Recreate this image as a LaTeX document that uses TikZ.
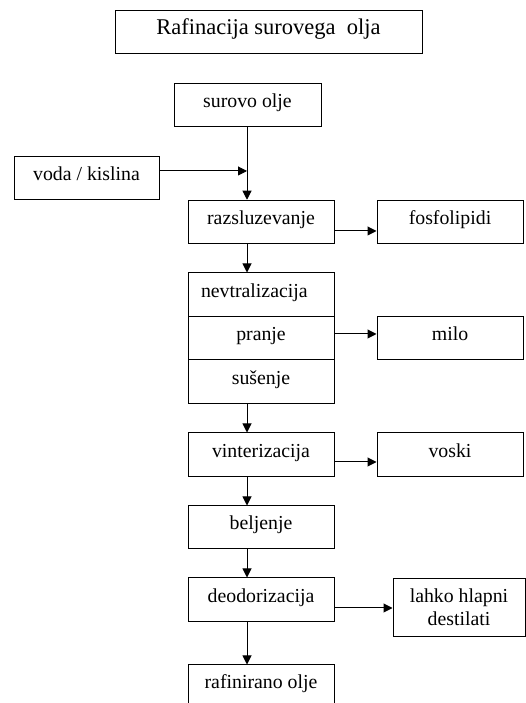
\documentclass[tikz,border=0pt]{standalone}
\usepackage{fontspec}
\setmainfont{Liberation Serif}
\usetikzlibrary{arrows.meta}
\begin{document}
\begin{tikzpicture}[x=1pt,y=1pt,
  box/.style={draw=black, line width=1pt, rectangle, inner sep=0pt,
    minimum width=146pt, minimum height=43pt,
    text height=13.5pt, text depth=9pt,
    font=\fontsize{19.8}{23}\selectfont},
  arr/.style={line width=1pt, -{Triangle[length=9pt,width=9pt]}}]
\useasboundingbox (0,0) rectangle (526,703);
\clip (0,0) rectangle (526,703);
% title
\node[box, minimum width=307pt, font=\fontsize{22.5}{26}\selectfont] (title) at (268.5,{703-32.5}) {Rafinacija surovega\ \ olja};
% main column
\node[box, minimum width=147pt] (surovo) at (247.5,{703-105.5}) {surovo olje};
\node[box, minimum width=145pt] (voda) at (86.5,{703-178.5}) {voda / kislina};
\node[box, minimum height=43.5pt] (razsl) at (261,{703-222}) {razsluzevanje};
\node[box] (fosfo) at (450,{703-222}) {fosfolipidi};
\node[box, minimum height=44pt, text width=120pt, inner xsep=13pt, align=left] (nev) at (261,{703-295}) {nevtralizacija};
\node[box] (pranje) at (261,{703-338.5}) {pranje};
\node[box, minimum height=44pt] (susenje) at (261,{703-382}) {sušenje};
\node[box] (milo) at (450,{703-338.5}) {milo};
\node[box, minimum height=44pt] (vint) at (261,{703-455}) {vinterizacija};
\node[box, minimum height=44pt] (voski) at (450,{703-455}) {voski};
\node[box] (belj) at (261,{703-527.5}) {beljenje};
\node[box, minimum height=44pt] (deo) at (261,{703-600}) {deodorizacija};
\node[box, minimum width=132pt, minimum height=58pt, align=center, text height=, text depth=] (lahko) at (459,{703-607.5}) {lahko hlapni\\destilati};
\node[box] (raf) at (261,{703-686.5}) {rafinirano olje};
% connectors
\coordinate (ax) at (247,0);
\coordinate (j) at (247,{703-171});
\draw[arr] (surovo.south -| ax) -- (razsl.north -| ax);
\draw[arr] (voda.east |- j) -- (j);
\draw[arr] (razsl.south -| ax) -- (nev.north -| ax);
\draw[arr] (susenje.south -| ax) -- (vint.north -| ax);
\draw[arr] (vint.south -| ax) -- (belj.north -| ax);
\draw[arr] (belj.south -| ax) -- (deo.north -| ax);
\draw[arr] (deo.south -| ax) -- (raf.north -| ax);
\coordinate (y1) at (0,{703-231});
\coordinate (y2) at (0,{703-334});
\coordinate (y3) at (0,{703-462});
\coordinate (y4) at (0,{703-608});
\draw[arr] (razsl.east |- y1) -- (fosfo.west |- y1);
\draw[arr] (pranje.east |- y2) -- (milo.west |- y2);
\draw[arr] (vint.east |- y3) -- (voski.west |- y3);
\draw[arr] (deo.east |- y4) -- (lahko.west |- y4);
\end{tikzpicture}
\end{document}
